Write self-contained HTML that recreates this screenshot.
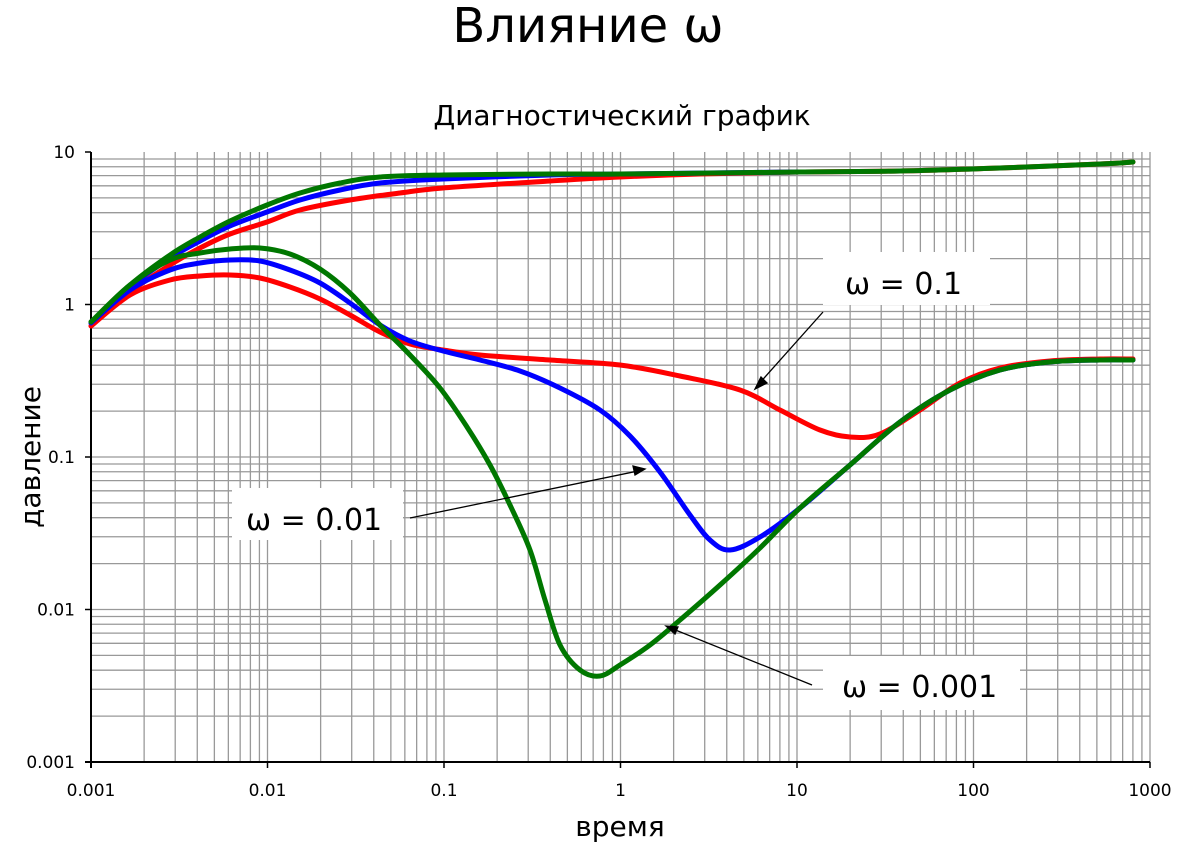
<!DOCTYPE html>
<html><head><meta charset="utf-8"><style>
body{margin:0;background:#fff;}
svg{display:block;font-family:"DejaVu Sans","Liberation Sans",sans-serif;}
</style></head><body>
<svg id="s" width="1191" height="847" xmlns="http://www.w3.org/2000/svg">
<rect width="1191" height="847" fill="#fff"/>
<g id="grid"></g>
<text x="588" y="42" font-size="48" text-anchor="middle" font-family="DejaVu Sans, sans-serif">Влияние ω</text>
<text x="622" y="125" font-size="28" text-anchor="middle">Диагностический график</text>
<text x="620" y="836" font-size="28" text-anchor="middle">время</text>
<text transform="translate(40,457) rotate(-90)" font-size="28" text-anchor="middle">давление</text>
<g id="curves" fill="none" stroke-width="5" stroke-linejoin="round" stroke-linecap="round">
<polyline stroke="#ff0000" points="91,326 130,292 170,265 200,248 230,234 267,222 300,210 350,200 400,193 443,188 550,181 620,177 700,174 800,172 900,171 1000,168 1100,164 1133,162"/>
<polyline stroke="#0000ff" points="91,323 130,287 170,258 200,241 230,226 267,212 300,200 340,190 380,183 443,179 550,175 620,174 800,172"/>
<polyline stroke="#007700" points="91,322 130,285 170,255 200,237 230,221 267,205 300,193 340,183 380,177 443,175 550,174 620,174 800,172 900,171 1000,168 1100,164 1133,162"/>
<polyline stroke="#ff0000" points="91,326 130,295 170,280 200,276 230,275 260,278 290,287 320,299 350,315 380,332 410,344 443,350 480,355 550,360 620,365 680,376 740,390 780,410 820,430 850,437 880,434 920,410 960,383 1000,368 1050,361 1100,359 1133,359"/>
<polyline stroke="#0000ff" points="91,323 130,290 170,270 200,263 230,260 260,261 290,270 320,283 350,303 380,325 410,341 443,351 480,360 520,371 560,388 600,410 630,436 660,472 690,515 710,540 730,550 760,537 800,508 850,465 900,422 950,390 1000,370 1050,362 1100,360 1133,360"/>
<polyline stroke="#007700" points="91,322 130,285 170,260 200,253 230,249 260,248 290,254 320,269 350,293 380,325 410,355 440,388 467,427 490,465 510,505 530,550 545,600 560,645 580,670 600,676 620,665 650,645 680,620 720,585 760,548 800,508 850,465 900,422 950,390 1000,370 1050,362 1100,360 1133,360"/>
</g>
<rect x="823" y="252" width="167" height="53" fill="#fff"/>
<rect x="232" y="488" width="171" height="52" fill="#fff"/>
<rect x="823" y="656" width="197" height="54" fill="#fff"/>
<g stroke="#000" stroke-width="1.3" fill="#000">
<line x1="823" y1="312" x2="757" y2="386"/><polygon points="755,389 761,377 767,383"/>
<line x1="410" y1="518" x2="643" y2="470"/><polygon points="645,469 633,466 635,475"/>
<line x1="812" y1="685" x2="668" y2="627"/><polygon points="666,626 675,634 678,627"/>
</g>
<g font-size="30" font-family="DejaVu Sans, sans-serif">
<text x="845" y="294">ω = 0.1</text>
<text x="246" y="530">ω = 0.01</text>
<text x="842" y="697">ω = 0.001</text>
</g>
</svg>
<script>
var g=document.getElementById('grid'),h='';
var x0=91,x1=1150,y0=762,y1=152,dx=(x1-x0)/6,dy=(y0-y1)/4;
for(var d=0;d<6;d++)for(var k=1;k<10;k++){var x=x0+dx*(d+Math.log10(k));if(x>x0+0.5)h+='<line x1="'+x+'" y1="'+y1+'" x2="'+x+'" y2="'+y0+'" stroke="#999" stroke-width="1.3"/>';}
for(var d=0;d<4;d++)for(var k=1;k<10;k++){var y=y0-dy*(d+Math.log10(k));if(y<y0-0.5)h+='<line x1="'+x0+'" y1="'+y+'" x2="'+x1+'" y2="'+y+'" stroke="#999" stroke-width="1.3"/>';}
h+='<line x1="'+x1+'" y1="'+y1+'" x2="'+x1+'" y2="'+y0+'" stroke="#999" stroke-width="1.3"/>';
h+='<line x1="'+x0+'" y1="'+y1+'" x2="'+x0+'" y2="'+(y0+6)+'" stroke="#000" stroke-width="2"/>';
h+='<line x1="'+(x0-6)+'" y1="'+y0+'" x2="'+x1+'" y2="'+y0+'" stroke="#000" stroke-width="2"/>';
var xl=['0.001','0.01','0.1','1','10','100','1000'];
for(var i=0;i<7;i++){var x=x0+dx*i;h+='<line x1="'+x+'" y1="'+y0+'" x2="'+x+'" y2="'+(y0+6)+'" stroke="#000" stroke-width="1.5"/><text x="'+x+'" y="'+(y0+34)+'" font-size="17" text-anchor="middle">'+xl[i]+'</text>';}
var yl=['0.001','0.01','0.1','1','10'];
for(var i=0;i<5;i++){var y=y0-dy*i;h+='<line x1="'+(x0-6)+'" y1="'+y+'" x2="'+x0+'" y2="'+y+'" stroke="#000" stroke-width="1.5"/><text x="'+(x0-16)+'" y="'+(y+6)+'" font-size="17" text-anchor="end">'+yl[i]+'</text>';}
g.innerHTML=h;
var c=document.getElementById('curves'),pls=c.querySelectorAll('polyline'),o='';
pls.forEach(function(pl){
 var p=pl.getAttribute('points').trim().split(/\s+/).map(function(s){return s.split(',').map(Number);});
 var d='M'+p[0][0]+','+p[0][1];
 for(var i=0;i<p.length-1;i++){
  var a=p[i-1]||p[i],b=p[i],e=p[i+1],f=p[i+2]||e;
  d+=' C'+(b[0]+(e[0]-a[0])/6)+','+(b[1]+(e[1]-a[1])/6)+' '+(e[0]-(f[0]-b[0])/6)+','+(e[1]-(f[1]-b[1])/6)+' '+e[0]+','+e[1];
 }
 o+='<path d="'+d+'" stroke="'+pl.getAttribute('stroke')+'"/>';
});
c.innerHTML=o;
</script>
</body></html>
